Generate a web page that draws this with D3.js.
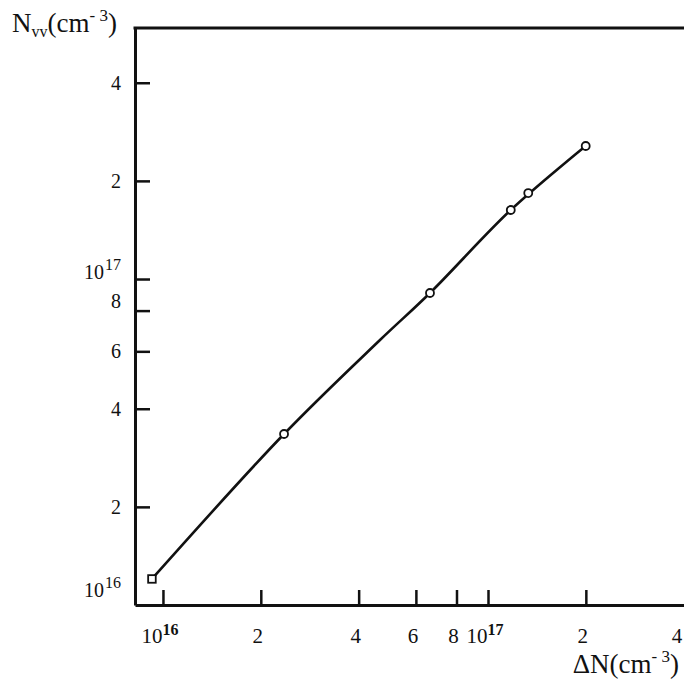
<!DOCTYPE html>
<html><head><meta charset="utf-8">
<script src="https://cdn.jsdelivr.net/npm/d3@7"></script>
<style>body{margin:0;background:#fff}svg{display:block}text{font-family:"Liberation Serif","Times New Roman",serif;fill:#111}</style>
</head><body><svg id="c" width="684" height="681"></svg>
<script>
// Data
const deltaN = [9.25e15, 2.358e16, 6.63e16, 1.175e17, 1.33e17, 1.998e17];
const nvv    = [1.202e16, 3.346e16, 9.06e16, 1.628e17, 1.835e17, 2.559e17];
const markerShape = ["square","circle","circle","circle","circle","circle"];
// fitted curve
const fitDeltaN = [9.25e15, 2.358e16, 4.653e16, 6.63e16, 1.175e17, 1.998e17];
const fitNvv    = [1.202e16, 3.346e16, 6.50e16, 9.06e16, 1.628e17, 2.559e17];
const xTicks = [1e16, 2e16, 4e16, 6e16, 8e16, 1e17, 2e17];
const xLabelValues = [1e16, 2e16, 4e16, 6e16, 8e16, 1e17, 2e17, 4e17];
const xTickLabels = [["10","16"], ["2"], ["4"], ["6"], ["8"], ["10","17"], ["2"], ["4"]];
const yTicks = [2e16, 4e16, 6e16, 8e16, 1e17, 2e17, 4e17];
const yLabelValues = [1e16, 2e16, 4e16, 6e16, 8e16, 1e17, 2e17, 4e17];
const yTickLabels = [["10","16"], ["2"], ["4"], ["6"], ["8"], ["10","17"], ["2"], ["4"]];

const svg = d3.select("#c");
const x0 = 135, y0 = 605, yTop = 28, xRight = 684;
const x = d3.scaleLog().domain([Math.pow(10,15.914), Math.pow(10,17.603)]).range([x0, xRight]);
const y = d3.scaleLog().domain([1e16, Math.pow(10,17.770)]).range([y0, yTop]);

// top border
svg.append("line").attr("x1", x0 - 1.5).attr("x2", xRight).attr("y1", yTop).attr("y2", yTop)
  .attr("stroke", "#111").attr("stroke-width", 3);

// axes
const gx = svg.append("g").attr("transform", `translate(0,${y0})`)
  .call(d3.axisBottom(x).tickValues(xTicks).tickSizeInner(-15).tickSizeOuter(0).tickFormat(""));
const gy = svg.append("g").attr("transform", `translate(${x0},0)`)
  .call(d3.axisLeft(y).tickValues(yTicks).tickSizeInner(-15).tickSizeOuter(0).tickFormat(""));
[gx, gy].forEach(g => {
  g.select(".domain").attr("stroke", "#111").attr("stroke-width", 3);
  g.selectAll(".tick line").attr("stroke", "#111").attr("stroke-width", 2.5);
});

// x labels
xLabelValues.forEach((v, i) => {
  const lab = xTickLabels[i];
  const px = Math.min(x(v) - 3, xRight - 7);
  const t = svg.append("text").attr("x", px).attr("y", 643)
    .attr("text-anchor", "middle").attr("font-size", 21);
  t.append("tspan").text(lab[0]);
  if (lab[1]) t.append("tspan").attr("dy", -8).attr("font-size", 16).attr("font-weight", "bold").text(lab[1]);
});

// y labels
yLabelValues.forEach((v, i) => {
  const lab = yTickLabels[i];
  let yy = y(v) + 7;
  if (v === 1e17) yy = y(v);
  if (v === 1e16) yy = y(v) - 8;
  if (v === 8e16) yy = y(v) - 3;
  const t = svg.append("text").attr("x", 121).attr("y", yy)
    .attr("text-anchor", "end").attr("font-size", 20);
  t.append("tspan").text(lab[0]);
  if (lab[1]) t.append("tspan").attr("dx", 1).attr("dy", -9).attr("font-size", 16).text(lab[1]);
});

// axis titles
const ty = svg.append("text").attr("x", 12).attr("y", 32).attr("font-size", 27);
ty.append("tspan").text("N");
ty.append("tspan").attr("dy", 5).attr("font-size", 16).text("vv");
ty.append("tspan").attr("dy", -5).text("(cm");
ty.append("tspan").attr("dy", -11).attr("font-size", 17).text("- 3");
ty.append("tspan").attr("dy", 11).text(")");

const tx = svg.append("text").attr("x", 679).attr("y", 673).attr("text-anchor", "end").attr("font-size", 27);
tx.append("tspan").text("ΔN(cm");
tx.append("tspan").attr("dy", -11).attr("font-size", 17).text("- 3");
tx.append("tspan").attr("dy", 11).text(")");

// fitted line
const fit = fitDeltaN.map((d, i) => [d, fitNvv[i]]);
svg.append("path").datum(fit)
  .attr("d", d3.line().x(d => x(d[0])).y(d => y(d[1])).curve(d3.curveCatmullRom.alpha(0.5)))
  .attr("fill", "none").attr("stroke", "#111").attr("stroke-width", 2.6);

// markers
const pts = deltaN.map((d, i) => [d, nvv[i]]);
pts.forEach((d, i) => {
  if (markerShape[i] === "square") {
    svg.append("rect").attr("x", x(d[0]) - 3.8).attr("y", y(d[1]) - 3.8)
      .attr("width", 7.6).attr("height", 7.6).attr("fill", "#fff").attr("stroke", "#111").attr("stroke-width", 1.8);
  } else {
    svg.append("circle").attr("cx", x(d[0])).attr("cy", y(d[1])).attr("r", 4)
      .attr("fill", "#fff").attr("stroke", "#111").attr("stroke-width", 1.8);
  }
});
</script></body></html>
